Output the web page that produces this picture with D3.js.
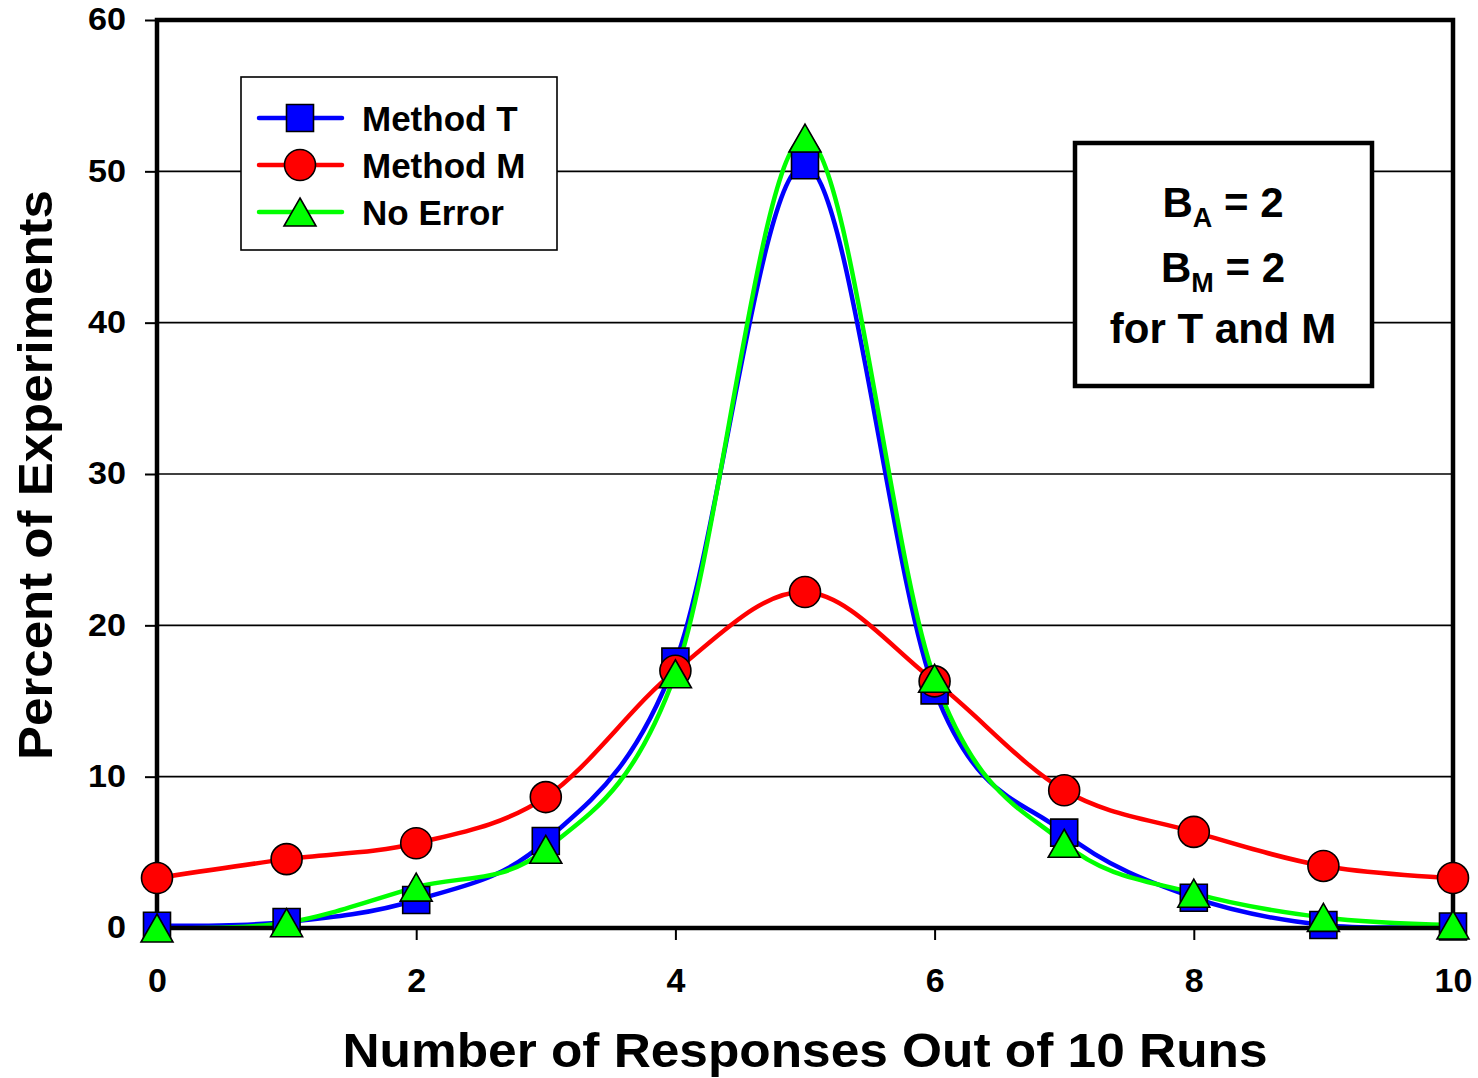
<!DOCTYPE html>
<html>
<head>
<meta charset="utf-8">
<script src="https://cdn.jsdelivr.net/npm/d3@7"></script>
<style>
  html, body { margin: 0; padding: 0; background: #fff; }
  svg { display: block; font-family: "Liberation Sans", Arial, sans-serif; font-weight: bold; }
</style>
</head>
<body>
<svg id="chart" width="1478" height="1078"></svg>
<script>
// Number of responses (out of 10 runs)
const responses = [0, 1, 2, 3, 4, 5, 6, 7, 8, 9, 10];
// Percent of experiments for each method
const methodT = [0.15, 0.4, 1.85, 5.75, 17.6, 50.4, 15.7, 6.3, 2.0, 0.2, 0.1];
const methodM = [3.3, 4.55, 5.6, 8.65, 17.0, 22.2, 16.3, 9.1, 6.35, 4.1, 3.3];
const noError = [0.0, 0.35, 2.7, 5.2, 16.8, 52.2, 16.5, 5.6, 2.3, 0.7, 0.2];

const seriesNames = ["Method T", "Method M", "No Error"];
const xTicks = [0, 2, 4, 6, 8, 10];
const yTicks = [0, 10, 20, 30, 40, 50, 60];
const gridValues = [10, 20, 30, 40, 50];

const series = [
  { name: seriesNames[0], values: methodT, color: "#0000FF", shape: "square" },
  { name: seriesNames[1], values: methodM, color: "#FF0000", shape: "circle" },
  { name: seriesNames[2], values: noError, color: "#00FF00", shape: "triangle" }
];

const plotL = 157, plotR = 1453, plotT = 20, plotB = 928;
const svg = d3.select("#chart");

const x = d3.scaleLinear().domain([0, 10]).range([plotL, plotR]);
const y = d3.scaleLinear().domain([0, 60]).range([plotB, plotT]);

// horizontal gridlines
svg.append("g").selectAll("line").data(gridValues).join("line")
  .attr("x1", plotL).attr("x2", plotR)
  .attr("y1", d => y(d)).attr("y2", d => y(d))
  .attr("stroke", "#000").attr("stroke-width", 1.6);

// y axis ticks and labels
const yAxis = svg.append("g").attr("transform", `translate(${plotL},0)`)
  .call(d3.axisLeft(y).tickValues(yTicks).tickSize(12).tickPadding(19));
yAxis.select(".domain").remove();
yAxis.selectAll(".tick line").attr("stroke", "#000").attr("stroke-width", 2);
yAxis.selectAll(".tick text")
  .attr("font-family", "'Liberation Sans', Arial, sans-serif")
  .attr("font-weight", "bold").attr("font-size", 31).attr("fill", "#000")
  .attr("textLength", d => String(d).length * 19)
  .attr("lengthAdjust", "spacingAndGlyphs");

// x axis ticks and labels
const xAxis = svg.append("g").attr("transform", `translate(0,${plotB})`)
  .call(d3.axisBottom(x).tickValues(xTicks).tickSize(12).tickPadding(28));
xAxis.select(".domain").remove();
xAxis.selectAll(".tick line").attr("stroke", "#000").attr("stroke-width", 2);
xAxis.selectAll(".tick text")
  .attr("font-family", "'Liberation Sans', Arial, sans-serif")
  .attr("font-weight", "bold").attr("font-size", 34).attr("fill", "#000");

// clip for the curves
svg.append("defs").append("clipPath").attr("id", "plotClip")
  .append("rect").attr("x", plotL).attr("y", plotT)
  .attr("width", plotR - plotL).attr("height", plotB - plotT);

const line = d3.line()
  .x((d, i) => x(responses[i]))
  .y(d => y(d))
  .curve(d3.curveCardinal.tension(0));

const symbolPath = {
  square: "M-13.5,-13.5H13.5V13.5H-13.5Z",
  triangle: "M0,-14L16,14H-16Z"
};

function drawMarker(g, shape, color) {
  if (shape === "circle") {
    g.append("circle").attr("r", 15.5)
      .attr("fill", color).attr("stroke", "#000").attr("stroke-width", 1.6);
  } else {
    g.append("path").attr("d", symbolPath[shape])
      .attr("fill", color).attr("stroke", "#000").attr("stroke-width", 1.6)
      .attr("stroke-linejoin", "miter");
  }
}

// curves go under the plot frame, markers above it
const lineLayer = svg.append("g").attr("clip-path", "url(#plotClip)");
const frameLayer = svg.append("g");
const markerLayer = svg.append("g");

series.forEach(s => {
  lineLayer.append("path")
    .datum(s.values)
    .attr("d", line)
    .attr("fill", "none")
    .attr("stroke", s.color)
    .attr("stroke-width", 4.5)
    .attr("stroke-linecap", "round");
});

// plot frame
frameLayer.append("rect")
  .attr("x", plotL).attr("y", plotT)
  .attr("width", plotR - plotL).attr("height", plotB - plotT)
  .attr("fill", "none").attr("stroke", "#000").attr("stroke-width", 4.5);

series.forEach(s => {
  markerLayer.append("g").selectAll("g").data(s.values).join("g")
    .attr("transform", (d, i) => `translate(${x(responses[i])},${y(d)})`)
    .each(function () { drawMarker(d3.select(this), s.shape, s.color); });
});

// axis titles
svg.append("text")
  .attr("x", 805).attr("y", 1067)
  .attr("text-anchor", "middle")
  .attr("font-size", 49).attr("fill", "#000")
  .attr("textLength", 925).attr("lengthAdjust", "spacingAndGlyphs")
  .text("Number of Responses Out of 10 Runs");

svg.append("text")
  .attr("transform", "translate(52,475) rotate(-90)")
  .attr("text-anchor", "middle")
  .attr("font-size", 49).attr("fill", "#000")
  .attr("textLength", 570).attr("lengthAdjust", "spacingAndGlyphs")
  .text("Percent of Experiments");

// legend
const legend = svg.append("g");
legend.append("rect")
  .attr("x", 241).attr("y", 77).attr("width", 316).attr("height", 173)
  .attr("fill", "#fff").attr("stroke", "#000").attr("stroke-width", 1.6);
series.forEach((s, i) => {
  const cy = 118 + i * 47;
  legend.append("line")
    .attr("x1", 259).attr("x2", 342).attr("y1", cy).attr("y2", cy)
    .attr("stroke", s.color).attr("stroke-width", 4.5).attr("stroke-linecap", "round");
  const m = legend.append("g").attr("transform", `translate(300,${cy})`);
  drawMarker(m, s.shape, s.color);
  legend.append("text")
    .attr("x", 362).attr("y", cy + 12.5)
    .attr("font-size", 35).attr("fill", "#000")
    .text(s.name);
});

// annotation box
const note = svg.append("g");
note.append("rect")
  .attr("x", 1075).attr("y", 143).attr("width", 297).attr("height", 243)
  .attr("fill", "#fff").attr("stroke", "#000").attr("stroke-width", 4.5);

function subLine(base, sub, rest, yBase) {
  const t = note.append("text")
    .attr("x", 1223).attr("y", yBase)
    .attr("text-anchor", "middle")
    .attr("font-size", 42).attr("fill", "#000");
  t.append("tspan").text(base);
  t.append("tspan").attr("font-size", 27).attr("dy", 10).text(sub);
  t.append("tspan").attr("dy", -10).text(rest);
}
subLine("B", "A", " = 2", 217);
subLine("B", "M", " = 2", 282);
note.append("text")
  .attr("x", 1223).attr("y", 343)
  .attr("text-anchor", "middle")
  .attr("font-size", 42).attr("fill", "#000")
  .text("for T and M");
</script>
</body>
</html>
